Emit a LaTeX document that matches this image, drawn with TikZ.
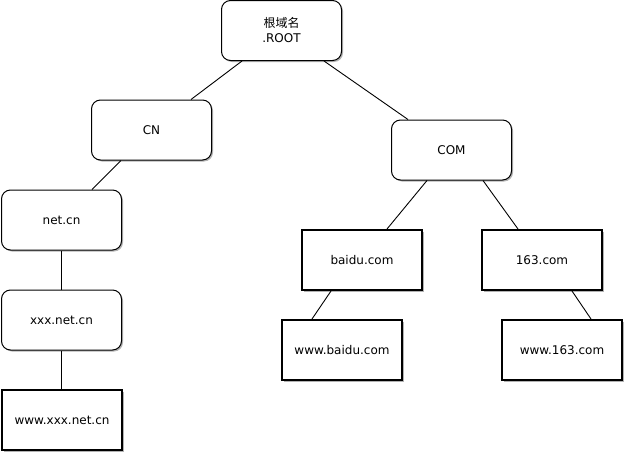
\documentclass[tikz,border=0pt]{standalone}
\usepackage{fontspec}
\setmainfont{DejaVu Sans}
\newfontfamily\cjk{Noto Sans CJK SC}
\usetikzlibrary{shadows,calc}
\begin{document}
\begin{tikzpicture}[x=1pt,y=-1pt,
  basebox/.style={draw=black, fill=white, minimum width=120pt, minimum height=60pt,
    inner sep=0pt, align=center, font=\fontsize{12pt}{15pt}\selectfont,
    drop shadow={shadow xshift=1.5pt, shadow yshift=-1.5pt, opacity=0.3, fill=black}},
  rbox/.style={basebox, rounded corners=9pt, line width=1pt},
  sbox/.style={basebox, line width=2pt},
  link/.style={draw=black, line width=0.9pt}]
\useasboundingbox (0,0) rectangle (624,455);
\node[rbox] (root) at (281.5,30.5) {{\cjk 根域名}\\.ROOT};
\node[rbox] (cn) at (151.5,130) {CN};
\node[rbox] (com) at (451.5,150) {COM};
\node[rbox] (net) at (61.5,220) {net.cn};
\node[rbox] (xxx) at (61.5,320) {xxx.net.cn};
\node[sbox] (wxxx) at (62,420) {www.xxx.net.cn};
\node[sbox] (baidu) at (362,260) {baidu.com};
\node[sbox] (n163) at (542,260) {163.com};
\node[sbox] (wbaidu) at (342,350) {www.baidu.com};
\node[sbox] (w163) at (562,350) {www.163.com};
\draw[link] ([xshift=-39.5pt]root.south) -- ([xshift=39.5pt]cn.north);
\draw[link] ([xshift=42.5pt]root.south) -- ([xshift=-43.5pt]com.north);
\draw[link] ([xshift=-30.5pt]cn.south) -- ([xshift=30.5pt]net.north);
\draw[link] (net.south) -- (xxx.north);
\draw[link] (xxx.south) -- (xxx.south |- wxxx.north);
\draw[link] ([xshift=-24.5pt]com.south) -- ([xshift=25pt]baidu.north);
\draw[link] ([xshift=31.5pt]com.south) -- ([xshift=-24pt]n163.north);
\draw[link] ([xshift=-31pt]baidu.south) -- ([xshift=-30pt]wbaidu.north);
\draw[link] ([xshift=30pt]n163.south) -- ([xshift=29pt]w163.north);
\end{tikzpicture}
\end{document}
